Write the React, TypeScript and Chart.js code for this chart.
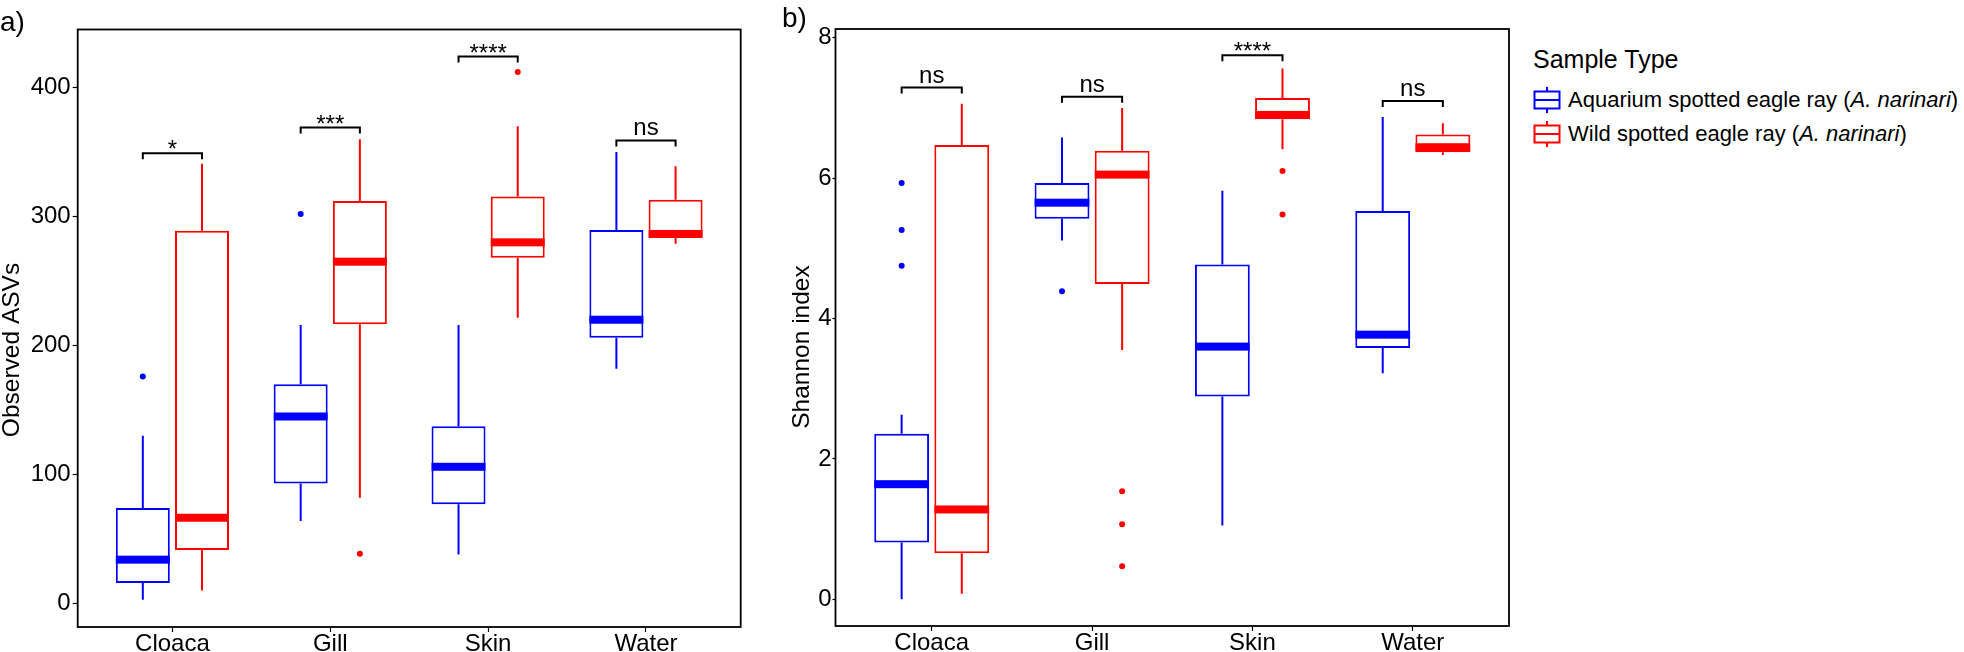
import React, { useEffect, useRef } from 'react';
import { Chart, registerables } from 'chart.js';

Chart.register(...registerables);

const FONT = "'Liberation Sans', Arial, Helvetica, sans-serif";
const BLUE = '#0000ff';
const RED = '#ff0000';

const categories = ['Cloaca', 'Gill', 'Skin', 'Water'];
const legendTitle = 'Sample Type';
const seriesNames = ['Aquarium spotted eagle ray', 'Wild spotted eagle ray'];
const speciesName = 'A. narinari';

// ---- Panel a: Observed ASVs ----
const asvTicks = [0, 100, 200, 300, 400];
const asvAquariumMin = [3, 64, 38, 182];
const asvAquariumQ1 = [16, 93, 77, 206];
const asvAquariumMedian = [34, 145, 106, 220];
const asvAquariumQ3 = [74, 170, 137.5, 289.5];
const asvAquariumMax = [130, 216, 216, 350];
const asvAquariumOutliers = [[0, 176], [1, 302]];
const asvWildMin = [10, 82, 221.5, 279];
const asvWildQ1 = [41.5, 216.5, 268, 283.5];
const asvWildMedian = [66.5, 265, 280, 286.5];
const asvWildQ3 = [289, 312, 315.5, 313];
const asvWildMax = [341, 360, 370, 339];
const asvWildOutliers = [[1, 38.5], [2, 412]];
const asvSignif = ['*', '***', '****', 'ns'];
const asvSignifY = [349, 369, 424, 359];

// ---- Panel b: Shannon index ----
const shannonTicks = [0, 2, 4, 6, 8];
const shAquariumMin = [0.0, 5.11, 1.05, 3.22];
const shAquariumQ1 = [0.81, 5.42, 2.89, 3.58];
const shAquariumMedian = [1.64, 5.65, 3.6, 3.77];
const shAquariumQ3 = [2.36, 5.93, 4.77, 5.53];
const shAquariumMax = [2.63, 6.58, 5.82, 6.87];
const shAquariumOutliers = [[0, 5.93], [0, 5.26], [0, 4.75], [1, 4.39]];
const shWildMin = [0.08, 3.55, 6.41, 6.33];
const shWildQ1 = [0.655, 4.49, 6.84, 6.37];
const shWildMedian = [1.28, 6.05, 6.9, 6.44];
const shWildQ3 = [6.47, 6.39, 7.14, 6.62];
const shWildMax = [7.06, 7.0, 7.56, 6.78];
const shWildOutliers = [[1, 1.54], [1, 1.07], [1, 0.47], [2, 6.1], [2, 5.48]];
const shSignif = ['ns', 'ns', '****', 'ns'];
const shSignifY = [7.29, 7.16, 7.75, 7.1];

// ---- styling / layout constants ----
const DODGE = 0.1875;
const BOX_RATIO = 0.912;

type Box = {
  min: number[]; q1: number[]; med: number[]; q3: number[]; max: number[];
  outliers: number[][]; color: string; name: string;
};

type Panel = {
  boxes: Box[]; ticks: number[]; yMin: number; yMax: number;
  signif: string[]; signifY: number[]; letter: string; title: string;
  canvasLeft: number; width: number; areaLeft: number; areaRight: number;
  areaTop: number; areaBottom: number; letterX: number; letterBaseline: number;
  titleX: number; titleY: number; tickLength: number; tickPadding: number;
};

const panelA: Panel = {
  boxes: [
    { min: asvAquariumMin, q1: asvAquariumQ1, med: asvAquariumMedian, q3: asvAquariumQ3, max: asvAquariumMax, outliers: asvAquariumOutliers, color: BLUE, name: seriesNames[0] },
    { min: asvWildMin, q1: asvWildQ1, med: asvWildMedian, q3: asvWildQ3, max: asvWildMax, outliers: asvWildOutliers, color: RED, name: seriesNames[1] },
  ],
  ticks: asvTicks, yMin: -18.2, yMax: 445,
  signif: asvSignif, signifY: asvSignifY, letter: 'a)', title: 'Observed ASVs',
  canvasLeft: 0, width: 770, areaLeft: 77.7, areaRight: 740.7, areaTop: 29.5, areaBottom: 627,
  letterX: 0, letterBaseline: 31, titleX: 18.5, titleY: 350, tickLength: 5, tickPadding: 2,
};

const panelB: Panel = {
  boxes: [
    { min: shAquariumMin, q1: shAquariumQ1, med: shAquariumMedian, q3: shAquariumQ3, max: shAquariumMax, outliers: shAquariumOutliers, color: BLUE, name: seriesNames[0] },
    { min: shWildMin, q1: shWildQ1, med: shWildMedian, q3: shWildQ3, max: shWildMax, outliers: shWildOutliers, color: RED, name: seriesNames[1] },
  ],
  ticks: shannonTicks, yMin: -0.38, yMax: 8.124,
  signif: shSignif, signifY: shSignifY, letter: 'b)', title: 'Shannon index',
  canvasLeft: 770, width: 760, areaLeft: 65.5, areaRight: 739, areaTop: 29, areaBottom: 626,
  letterX: 12, letterBaseline: 27, titleX: 38.5, titleY: 347, tickLength: 3, tickPadding: 1,
};

const HEIGHT = 652;

function makeExtras(p: Panel) {
  return {
    id: 'boxExtras',
    afterDatasetsDraw(chart: any) {
      const ctx = chart.ctx;
      const ys = chart.scales.y;
      ctx.save();
      p.boxes.forEach((b, si) => {
        const meta = chart.getDatasetMeta(si);
        meta.data.forEach((bar: any, i: number) => {
          const { x, width } = bar.getProps(['x', 'width'], true);
          ctx.strokeStyle = b.color;
          ctx.lineWidth = 2;
          ctx.lineCap = 'butt';
          ctx.beginPath();
          ctx.moveTo(x, ys.getPixelForValue(b.q3[i]));
          ctx.lineTo(x, ys.getPixelForValue(b.max[i]));
          ctx.moveTo(x, ys.getPixelForValue(b.q1[i]));
          ctx.lineTo(x, ys.getPixelForValue(b.min[i]));
          ctx.stroke();
          const my = ys.getPixelForValue(b.med[i]);
          ctx.fillStyle = b.color;
          ctx.fillRect(x - width / 2, my - 4, width, 8);
        });
      });
      const m0 = chart.getDatasetMeta(0);
      const m1 = chart.getDatasetMeta(1);
      ctx.strokeStyle = '#000';
      ctx.fillStyle = '#000';
      ctx.lineWidth = 2;
      ctx.font = `24px ${FONT}`;
      ctx.textAlign = 'center';
      ctx.textBaseline = 'alphabetic';
      p.signif.forEach((label, i) => {
        const x0 = m0.data[i].x;
        const x1 = m1.data[i].x;
        const y = ys.getPixelForValue(p.signifY[i]);
        ctx.beginPath();
        ctx.moveTo(x0, y + 6);
        ctx.lineTo(x0, y);
        ctx.lineTo(x1, y);
        ctx.lineTo(x1, y + 6);
        ctx.stroke();
        const stars = label.indexOf('*') >= 0;
        ctx.fillText(label, (x0 + x1) / 2, stars ? y + 4 : y - 5);
      });
      ctx.restore();
    },
    afterDraw(chart: any) {
      const ctx = chart.ctx;
      const a = chart.chartArea;
      ctx.save();
      ctx.strokeStyle = '#000';
      ctx.lineWidth = 1.8;
      ctx.strokeRect(a.left, a.top, a.right - a.left, a.bottom - a.top);
      ctx.fillStyle = '#000';
      ctx.font = `28px ${FONT}`;
      ctx.textAlign = 'left';
      ctx.textBaseline = 'alphabetic';
      ctx.fillText(p.letter, p.letterX, p.letterBaseline);
      ctx.translate(p.titleX, p.titleY);
      ctx.rotate(-Math.PI / 2);
      ctx.font = `24.5px ${FONT}`;
      ctx.textAlign = 'center';
      ctx.fillText(p.title, 0, 0);
      ctx.restore();
    },
  };
}

function buildConfig(p: Panel): any {
  const boxDatasets = p.boxes.map((b, si) => ({
    type: 'bar',
    label: b.name,
    data: categories.map((_, i) => ({ x: i + 1 + (si === 0 ? -DODGE : DODGE), y: [b.q1[i], b.q3[i]] })),
    backgroundColor: '#ffffff',
    borderColor: b.color,
    borderWidth: 2,
    borderSkipped: false,
    grouped: false,
    categoryPercentage: 1,
    barPercentage: BOX_RATIO,
    order: 2,
  }));
  const outlierDatasets = p.boxes.map((b, si) => ({
    type: 'scatter',
    label: b.name + ' outliers',
    data: b.outliers.map(([ci, v]) => ({ x: ci + 1 + (si === 0 ? -DODGE : DODGE), y: v })),
    pointRadius: 3,
    pointBorderWidth: 0,
    pointBackgroundColor: b.color,
    borderColor: b.color,
    order: 1,
  }));
  return {
    type: 'bar',
    data: { datasets: [...boxDatasets, ...outlierDatasets] },
    options: {
      animation: false,
      responsive: false,
      devicePixelRatio: 1,
      layout: {
        padding: { left: 0, top: p.areaTop, right: p.width - p.areaRight, bottom: 0 },
      },
      plugins: { legend: { display: false }, tooltip: { enabled: false } },
      scales: {
        x: {
          type: 'linear',
          min: 0.4,
          max: 4.6,
          offset: false,
          afterBuildTicks: (s: any) => { s.ticks = categories.map((_, i) => ({ value: i + 1 })); },
          afterFit: (s: any) => { s.height = HEIGHT - p.areaBottom; },
          ticks: {
            callback: (v: any) => categories[Math.round(Number(v)) - 1] ?? '',
            font: { family: FONT, size: 24, lineHeight: 1 },
            color: '#000',
            padding: 0,
            maxRotation: 0,
            autoSkip: false,
          },
          grid: { offset: false, drawOnChartArea: false, drawTicks: true, tickLength: 5, tickColor: '#000', tickWidth: 1.2 },
          border: { display: false },
        },
        y: {
          type: 'linear',
          min: p.yMin,
          max: p.yMax,
          afterBuildTicks: (s: any) => { s.ticks = p.ticks.map((v) => ({ value: v })); },
          afterFit: (s: any) => { s.width = p.areaLeft; },
          ticks: {
            callback: (v: any) => String(v),
            font: { family: FONT, size: 24 },
            color: '#000',
            padding: p.tickPadding,
          },
          grid: { drawOnChartArea: false, drawTicks: true, tickLength: p.tickLength, tickColor: '#000', tickWidth: 1.2 },
          border: { display: false },
        },
      },
    },
    plugins: [makeExtras(p)],
  };
}

function PanelChart({ panel }: { panel: Panel }) {
  const ref = useRef<HTMLCanvasElement | null>(null);
  useEffect(() => {
    if (!ref.current) return;
    const chart = new Chart(ref.current, buildConfig(panel));
    return () => chart.destroy();
  }, [panel]);
  return (
    <canvas
      ref={ref}
      width={panel.width}
      height={HEIGHT}
      style={{ position: 'absolute', left: panel.canvasLeft, top: 0, width: panel.width, height: HEIGHT }}
    />
  );
}

function LegendGlyph({ color, centerY }: { color: string; centerY: number }) {
  return (
    <svg
      width={30}
      height={30}
      style={{ position: 'absolute', left: 1532, top: centerY - 15 }}
    >
      <line x1={15} y1={2} x2={15} y2={28} stroke={color} strokeWidth={2} />
      <rect x={2.5} y={6.5} width={25} height={17} fill="#fff" stroke={color} strokeWidth={2} />
      <line x1={2.5} y1={15} x2={27.5} y2={15} stroke={color} strokeWidth={2} />
    </svg>
  );
}

export default function App() {
  const legendColors = [BLUE, RED];
  const legendCenters = [100.3, 133.5];
  const legendBaselines = [108, 141.5];
  return (
    <div style={{ position: 'absolute', left: 0, top: 0, width: 1964, height: HEIGHT, background: '#fff', overflow: 'hidden', fontFamily: FONT, color: '#000' }}>
      <PanelChart panel={panelA} />
      <PanelChart panel={panelB} />
      <div style={{ position: 'absolute', left: 1533, top: 68 - 21.2, fontSize: 25, lineHeight: 1, whiteSpace: 'nowrap' }}>
        {legendTitle}
      </div>
      {seriesNames.map((name, i) => (
        <React.Fragment key={name}>
          <LegendGlyph color={legendColors[i]} centerY={legendCenters[i]} />
          <div style={{ position: 'absolute', left: 1568, top: legendBaselines[i] - 18.6, fontSize: 22, lineHeight: 1, whiteSpace: 'nowrap' }}>
            {name} (<i>{speciesName}</i>)
          </div>
        </React.Fragment>
      ))}
    </div>
  );
}
